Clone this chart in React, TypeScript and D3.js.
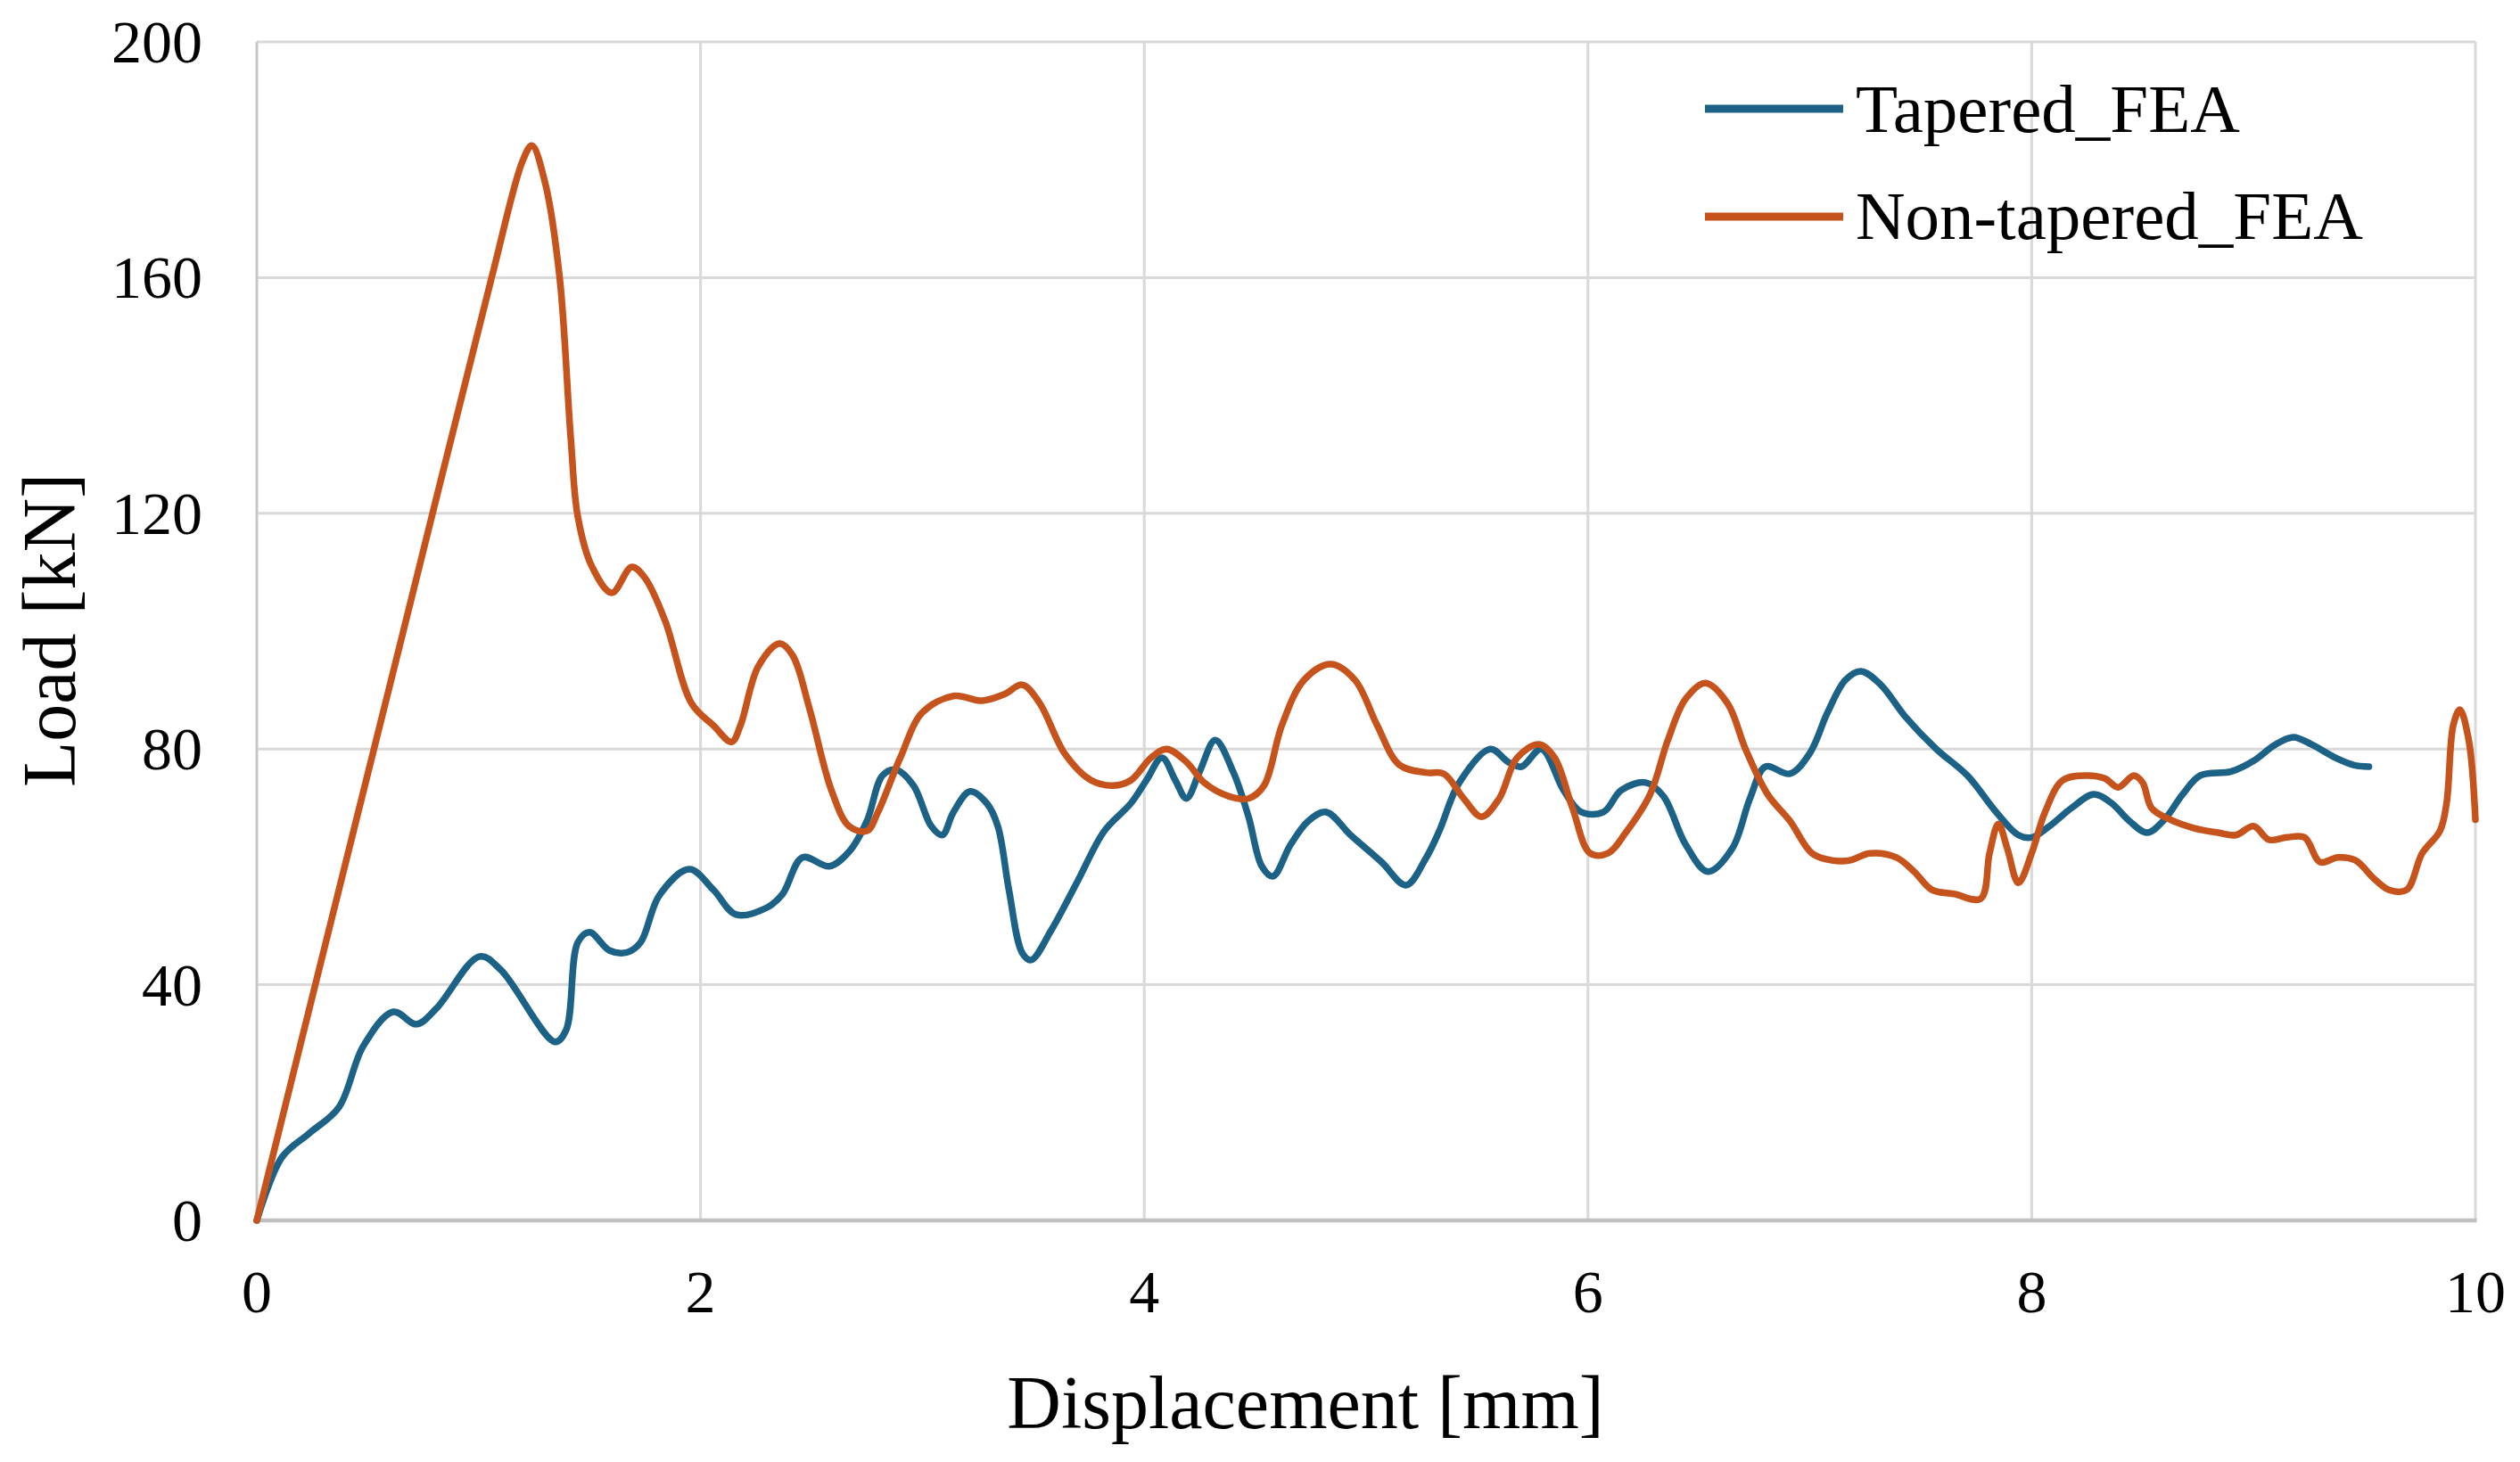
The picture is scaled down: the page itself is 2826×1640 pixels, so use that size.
import React from "react";
import * as d3 from "d3";

const W = 2826;
const H = 1640;

const xTicks = [0, 2, 4, 6, 8, 10];
const yTicks = [0, 40, 80, 120, 160, 200];

const seriesNames = ["Tapered_FEA", "Non-tapered_FEA"];
const seriesColors = ["#1c6287", "#c5531b"];

const taperedDisp = [
  0, 0.113, 0.237, 0.37, 0.48, 0.615, 0.72, 0.81, 1.005, 1.1, 1.345, 1.395, 1.447, 1.5, 1.59, 1.67, 1.73,
  1.815, 1.95, 2.058, 2.16, 2.3, 2.37, 2.46, 2.58, 2.67, 2.75, 2.82, 2.88, 2.96, 3.04, 3.09, 3.14, 3.215,
  3.29, 3.34, 3.39, 3.45, 3.49, 3.58, 3.7, 3.82, 3.94, 4.01, 4.08, 4.14, 4.19, 4.25, 4.32, 4.4, 4.47, 4.53,
  4.58, 4.66, 4.74, 4.82, 4.93, 5.07, 5.18, 5.27, 5.33, 5.42, 5.56, 5.64, 5.7, 5.79, 5.89, 5.97, 6.07,
  6.15, 6.26, 6.34, 6.44, 6.54, 6.65, 6.73, 6.8, 6.91, 7.0, 7.08, 7.16, 7.23, 7.32, 7.43, 7.57, 7.71, 7.84,
  7.94, 8.0, 8.08, 8.18, 8.28, 8.36, 8.44, 8.52, 8.6, 8.68, 8.76, 8.9, 9.0, 9.1, 9.18, 9.26, 9.37, 9.45, 9.52,
];
const taperedLoad = [
  0, 10.7, 14.8, 19.2, 29.6, 35.4, 33.3, 36, 44.8, 42.5, 30.3, 32.4, 47.2, 48.9, 45.8, 45.5, 47.2,
  55.2, 59.6, 56.1, 51.9, 53.1, 55.4, 61.6, 60.1, 62.6, 67.8, 75.5, 76.5, 73.8, 66.9, 65.4, 69.3, 72.8,
  70.8, 66.9, 56.1, 45.4, 44.2, 49.2, 57.6, 66.1, 70.8, 74.7, 78.5, 74.7, 71.6, 76.2, 81.5, 76.2, 68.5, 60.1,
  58.4, 63.8, 67.8, 69.3, 65.4, 60.8, 56.9, 61.5, 66.1, 74.3, 80, 77.8, 77, 80, 73, 69.3, 69.3,
  73, 74.3, 72, 63.8, 59.2, 63.1, 71.6, 77, 75.8, 79.3, 86.2, 91.7, 93.2, 90.9, 85.5, 80, 75.5, 69.3,
  65.4, 65, 66.9, 70, 72.3, 70.8, 67.8, 65.8, 68.1, 72.3, 75.5, 76.2, 78, 80.8, 82, 80.8, 78.5, 77.3, 77,
];

const nonTaperedDisp = [
  0, 0.333, 0.667, 1.057, 1.2, 1.24, 1.3, 1.365, 1.415, 1.447, 1.51, 1.6, 1.69, 1.75, 1.84, 1.96, 2.058,
  2.14, 2.18, 2.26, 2.355, 2.415, 2.49, 2.59, 2.67, 2.75, 2.8, 2.9, 3.0, 3.14, 3.27, 3.37, 3.45, 3.53, 3.64,
  3.76, 3.86, 3.94, 4.03, 4.1, 4.19, 4.27, 4.38, 4.47, 4.54, 4.62, 4.72, 4.84, 4.95, 5.05, 5.15, 5.27, 5.35,
  5.44, 5.52, 5.6, 5.68, 5.78, 5.85, 5.93, 6.01, 6.09, 6.17, 6.28, 6.36, 6.44, 6.53, 6.63, 6.71, 6.81, 6.91,
  7.01, 7.1, 7.18, 7.27, 7.39, 7.47, 7.55, 7.65, 7.77, 7.81, 7.85, 7.89, 7.94, 8.0, 8.06, 8.14, 8.25, 8.33,
  8.39, 8.46, 8.5, 8.54, 8.62, 8.73, 8.84, 8.92, 9.0, 9.07, 9.15, 9.23, 9.3, 9.38, 9.46, 9.54, 9.61, 9.69,
  9.76, 9.84, 9.87, 9.9, 9.93, 9.97, 10.0,
];
const nonTaperedLoad = [
  0, 50.5, 101, 159.8, 180, 182.4, 176, 160, 132.8, 119.4, 111, 106.5, 110.9, 109, 101.8, 87.7, 84,
  81.2, 84, 94, 97.9, 95.9, 87, 73, 66.9, 66.1, 69.3, 78.5, 86.2, 89, 88.2, 89.3, 90.9, 87.7, 79.3,
  74.7, 73.8, 74.7, 78.5, 80, 77.8, 74.3, 72, 71.6, 73.8, 84, 91.7, 94.4, 91.7, 84, 77.3, 76, 75.8,
  71.6, 68.5, 71.6, 78.5, 80.8, 78.5, 70, 62.3, 62.3, 65.8, 72.3, 81.5, 88.5, 91.2, 87.7, 80, 72.3, 67.8,
  62.3, 61.1, 61.1, 62.3, 61.6, 59.2, 56.1, 55.4, 54.6, 62.3, 67.3, 63.1, 57.3, 62.3, 69.3, 74.7, 75.5, 75,
  73.5, 75.5, 74.3, 70, 68.1, 66.6, 65.8, 65.4, 66.9, 64.6, 65, 65, 60.8, 61.6, 61.1, 58.1, 56.1, 56.1,
  62.3, 66.1, 70.8, 84, 86.7, 81.5, 68,
];

const series = [
  { name: seriesNames[0], color: seriesColors[0], xs: taperedDisp, ys: taperedLoad },
  { name: seriesNames[1], color: seriesColors[1], xs: nonTaperedDisp, ys: nonTaperedLoad },
];

const FONT = "'Liberation Serif', 'Times New Roman', serif";

export default function App() {
  const left = 288;
  const right = 2776;
  const top = 47;
  const bottom = 1369;

  const x = d3.scaleLinear().domain([0, 10]).range([left, right]);
  const y = d3.scaleLinear().domain([0, 200]).range([bottom, top]);

  const line = d3
    .line<[number, number]>()
    .x((d) => x(d[0]))
    .y((d) => y(d[1]))
    .curve(d3.curveCatmullRom.alpha(0.5));

  return (
    <div style={{ position: "absolute", left: 0, top: 0, width: W, height: H, background: "#fff" }}>
      <svg width={W} height={H} viewBox={`0 0 ${W} ${H}`} style={{ display: "block" }}>
        <rect x={0} y={0} width={W} height={H} fill="#ffffff" />
        {yTicks.slice(1).map((t) => (
          <line key={"hy" + t} x1={left} x2={right} y1={y(t)} y2={y(t)} stroke="#d9d9d9" strokeWidth={3} />
        ))}
        {xTicks.slice(1).map((t) => (
          <line key={"vx" + t} x1={x(t)} x2={x(t)} y1={top} y2={bottom} stroke="#d9d9d9" strokeWidth={3} />
        ))}
        <line x1={left} x2={left} y1={top} y2={bottom} stroke="#c8c8c8" strokeWidth={3} />
        <line x1={left} x2={right + 1.5} y1={bottom} y2={bottom} stroke="#bfbfbf" strokeWidth={4.5} />

        {series.map((s) => (
          <path
            key={s.name}
            d={line(s.xs.map((v, i) => [v, s.ys[i]] as [number, number])) || ""}
            fill="none"
            stroke={s.color}
            strokeWidth={7.5}
            strokeLinejoin="round"
            strokeLinecap="round"
          />
        ))}

        {yTicks.map((t) => (
          <text
            key={"yl" + t}
            x={227}
            y={y(t) + 23}
            textAnchor="end"
            fontFamily={FONT}
            fontSize={68}
            fill="#000"
          >
            {t}
          </text>
        ))}
        {xTicks.map((t) => (
          <text
            key={"xl" + t}
            x={x(t)}
            y={1472}
            textAnchor="middle"
            fontFamily={FONT}
            fontSize={68}
            fill="#000"
          >
            {t}
          </text>
        ))}

        <text x={1464} y={1602} textAnchor="middle" fontFamily={FONT} fontSize={84} fill="#000">
          Displacement [mm]
        </text>
        <text
          transform={`translate(84, 707) rotate(-90)`}
          textAnchor="middle"
          fontFamily={FONT}
          fontSize={84}
          fill="#000"
        >
          Load [kN]
        </text>

        {series.map((s, i) => (
          <g key={"lg" + s.name}>
            <line
              x1={1912}
              x2={2067}
              y1={122 + i * 121}
              y2={122 + i * 121}
              stroke={s.color}
              strokeWidth={9}
            />
            <text x={2081} y={148 + i * 120} fontFamily={FONT} fontSize={77} fill="#000">
              {s.name}
            </text>
          </g>
        ))}
      </svg>
    </div>
  );
}
